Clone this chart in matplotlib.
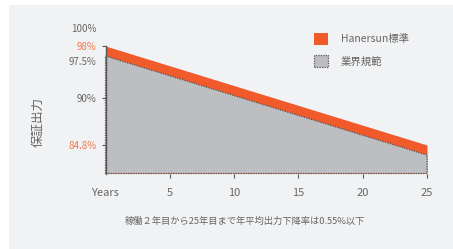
import numpy as np
import matplotlib
matplotlib.use("Agg")
import matplotlib.pyplot as plt
from matplotlib.patches import Patch, Rectangle
from matplotlib.transforms import ScaledTranslation

plt.rcParams['font.family'] = ['Noto Sans CJK JP', 'DejaVu Sans']

# ---- data ----
years = [0, 25]
hanersun = [98.0, 84.8]
industry = [97.5, 80.7]
series_labels = ["Hanersun標準", "業界規範"]
x_ticks = [0, 5, 10, 15, 20, 25]
x_ticklabels = ["Years", "5", "10", "15", "20", "25"]
y_major = [84.8, 90, 98]
y_major_labels = ["84.8%", "90%", "98%"]
y_minor = [97.5, 100]
y_minor_labels = ["97.5%", "100%"]
ylabel = "保証出力"
note = "稼働２年目から25年目まで年平均出力下降率は0.55%以下"

# stylised (non-linear) value axis used by the original design
scale_vals = [78, 80.7, 84.8, 90, 97.5, 98, 100]
scale_pos = [0, 18.5, 28.5, 75.5, 117.5, 127.5, 145.5]

def fwd(v):
    return np.interp(v, scale_vals, scale_pos)

def inv(p):
    return np.interp(p, scale_pos, scale_vals)

ORANGE = "#f15a2b"
ORANGE_TXT = "#f37748"
GRAY_FILL = "#bdbec2"
TXT = "#666666"
BG = "#f1f2f4"

W, H = 453, 249
fig = plt.figure(figsize=(W / 100, H / 100), dpi=100, facecolor="white")
fig.patches.append(Rectangle((9 / W, 0), 1, 1 - 5 / H, transform=fig.transFigure,
                             facecolor=BG, edgecolor="none", zorder=-10))

ax = fig.add_axes([105.5 / W, 1 - 173.5 / H, 321.5 / W, 145.5 / H])
ax.set_facecolor("none")
ax.set_yscale("function", functions=(fwd, inv))
ax.set_xlim(0, 25)
ax.set_ylim(78, 100)

ax.fill_between(years, hanersun, 78, color=ORANGE, linewidth=0, clip_on=False, zorder=2)
ax.fill_between(years, industry, 78, facecolor=GRAY_FILL, edgecolor="#555555",
                linestyle=(0, (1, 1)), linewidth=0.9, clip_on=False, zorder=3)

for s in ["top", "right", "bottom"]:
    ax.spines[s].set_visible(False)
ax.spines["left"].set_bounds(78, 98)
ax.spines["left"].set_color("#555555")
ax.spines["left"].set_linewidth(1.0)
ax.spines["left"].set_zorder(4)

ax.set_xticks(x_ticks)
ax.set_xticklabels(x_ticklabels)
ax.tick_params(axis="x", length=3, width=0.8, color="#555555", pad=7.5,
               labelsize=8, labelcolor=TXT)
ax.xaxis.get_major_ticks()[0].tick1line.set_visible(False)

ax.set_yticks(y_major)
ax.set_yticklabels(y_major_labels)
ax.set_yticks(y_minor, minor=True)
ax.set_yticklabels(y_minor_labels, minor=True)
ax.tick_params(axis="y", which="major", length=3, width=0.8, color="#555555",
               pad=3.5, labelsize=7, labelcolor=TXT)
ax.tick_params(axis="y", which="minor", length=0, pad=6.5, labelsize=7, labelcolor=TXT)
for lab, txt in zip(ax.get_yticklabels(), y_major_labels):
    if txt in ("84.8%", "98%"):
        lab.set_color(ORANGE_TXT)

# nudge the 97.5% label slightly down, as in the original
for t in ax.yaxis.get_minor_ticks():
    if abs(t.get_loc() - 97.5) < 1e-6:
        t.label1.set_transform(t.label1.get_transform()
                               + ScaledTranslation(0, -3.5 / 72, fig.dpi_scale_trans))

fig.text(38 / W, 1 - 122 / H, ylabel, rotation=90, ha="center", va="center",
         fontsize=9, color=TXT)

handles = [Patch(facecolor=ORANGE, edgecolor="none"),
           Patch(facecolor=GRAY_FILL, edgecolor="#555555", linestyle=(0, (1, 1)), linewidth=0.9)]
fig.legend(handles, series_labels, loc="upper left", bbox_to_anchor=(314 / W, 1 - 33 / H),
           frameon=False, fontsize=7.5, handlelength=1.35, handleheight=1.35,
           handletextpad=1.2, labelspacing=1.0, borderpad=0, borderaxespad=0,
           labelcolor=TXT)

fig.text(245 / W, 1 - 221.5 / H, note, ha="center", va="center", fontsize=6.7, color=TXT)

fig.savefig("out.png", dpi=100, facecolor="white")
